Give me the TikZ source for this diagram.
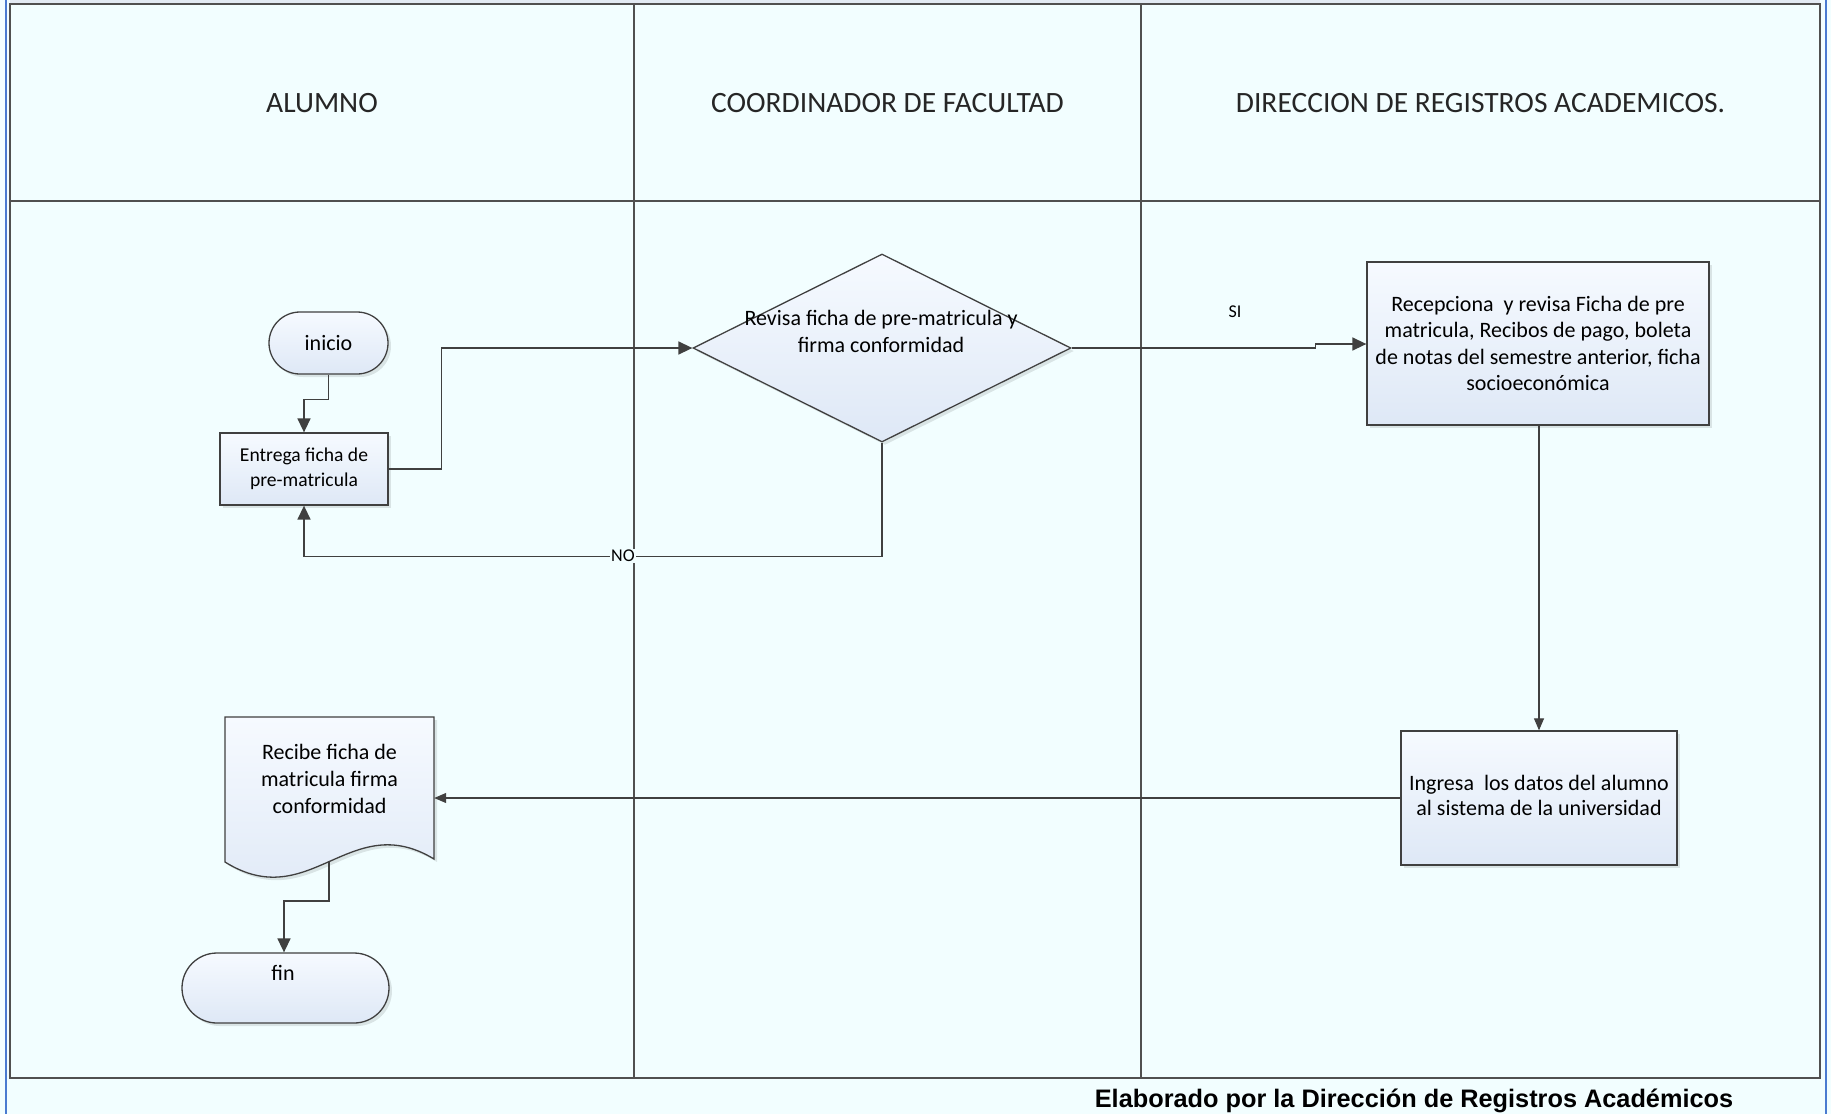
\documentclass[tikz,border=0pt]{standalone}
\usepackage{fontspec}
\setmainfont{Carlito}
\newfontfamily\footfont{Liberation Sans}
\usetikzlibrary{arrows.meta,shapes.geometric,shadows}
\definecolor{bg}{HTML}{F2FEFF}
\definecolor{ln}{HTML}{404040}
\definecolor{lane}{HTML}{505050}
\definecolor{frameblue}{HTML}{4A7BD0}
\definecolor{ftop}{HTML}{F6FAFF}
\definecolor{fbot}{HTML}{DEE8F6}
\definecolor{strip}{HTML}{E2EAF3}
\tikzset{
  shapefill/.style={draw=ln, line width=1.3pt, top color=ftop, bottom color=fbot,
    drop shadow={shadow xshift=3pt, shadow yshift=-3pt, fill=black, opacity=0.10}},
  procbox/.style={shapefill, rectangle, align=center, inner sep=0pt,
    font=\fontsize{22}{27}\selectfont},
  termbox/.style={procbox},
  decbox/.style={shapefill, diamond, inner sep=0pt},
  txt/.style={align=center, inner sep=0pt, font=\fontsize{22}{27}\selectfont},
  head/.style={inner sep=0pt, font=\fontsize{29.5}{34}\selectfont, text=black!85},
  lbl/.style={inner sep=1pt, font=\fontsize{18}{20}\selectfont, fill=bg},
  conn/.style={draw=ln, line width=1.5pt, -{Triangle[length=14pt,width=13pt]}},
  connthin/.style={draw=ln, line width=1.1pt, -{Triangle[length=12pt,width=10pt]}},
}
\begin{document}
\begin{tikzpicture}[x=1pt,y=-1pt]
% background and frame
\fill[bg] (0,0) rectangle (1831,1114);
\useasboundingbox (0,0) rectangle (1831,1114);
\fill[strip] (10,0) rectangle (1820,3);
\draw[frameblue, line width=2pt] (5.5,0) -- (5.5,1114);
\draw[frameblue, line width=2pt] (1826,0) -- (1826,1114);
\draw[lane, line width=2pt] (10,4) rectangle (1820,1078);
\draw[lane, line width=1.5pt] (10,201) -- (1820,201);
\draw[lane, line width=1.5pt] (634,4) -- (634,1078);
\draw[lane, line width=1.5pt] (1141,4) -- (1141,1078);

% lane headers
\node[head] (hA) at (322,103) {ALUMNO};
\node[head] (hB) at (887.5,103) {COORDINADOR DE FACULTAD};
\node[head] (hC) at (1480.5,103) {DIRECCION DE REGISTROS ACADEMICOS.};

% shapes
\node[termbox, rounded corners=31pt, minimum width=119pt, minimum height=62pt] (ini) at (328.5,343) {inicio};
\node[procbox, minimum width=168pt, minimum height=72pt, font=\fontsize{19.6}{25}\selectfont] (ent) at (304,469) {Entrega ficha de\\pre-matricula};
\node[decbox, minimum width=378pt, minimum height=188pt] (dec) at (882,348) {};
\node[txt] (dectxt) at (881,331.5) {Revisa ficha de pre-matricula y\\firma conformidad};
\node[procbox, minimum width=342pt, minimum height=163pt, font=\fontsize{22}{26.4}\selectfont] (rec) at (1538,343.5) {Recepciona\ \ y revisa Ficha de pre\\matricula, Recibos de pago, boleta\\de notas del semestre anterior, ficha\\socioeconómica};
\node[procbox, minimum width=276pt, minimum height=134pt, font=\fontsize{22}{25}\selectfont] (ing) at (1539,798) {};
\node[txt, font=\fontsize{22}{25}\selectfont] (ingtxt) at (1539,795.5) {Ingresa\ \ los datos del alumno\\al sistema de la universidad};

% document shape
\path[shapefill] (225,717) -- (434,717) -- (434,859) .. controls (350,808) and (310,915) .. (225,862) -- cycle;
\node[txt, minimum width=209pt, minimum height=127pt, font=\fontsize{22}{26.9}\selectfont] (doc) at (329.5,779) {Recibe ficha de\\matricula firma\\conformidad};
\coordinate (docb) at (329,861);

\node[termbox, rounded corners=35pt, minimum width=207pt, minimum height=70pt] (fin) at (285.5,988) {};
\node[txt] (fintxt) at (283,973) {fin};

% connectors
\draw[conn] (ini.south) -- ++(0,25) -| (ent.north);
\draw[conn] (ent.east) -- ++(53,0) |- (dec.west);
\draw[conn] (dec.south) -- ++(0,114) -| (ent.south);
\draw[conn] (dec.east) -- ++(244,0) -- ++(0,-4) -- (rec.west |- 0,344);
\draw[connthin] (rec.south -| ing.north) -- (ing.north);
\draw[connthin] (ing.west) -- (doc.east |- ing.west);
\draw[conn] (docb) -- ++(0,40) -| ([xshift=-1.5pt]fin.north);

% labels
\node[lbl] (no) at (623,556) {NO};
\node[inner sep=0pt, font=\fontsize{18}{20}\selectfont] (si) at (1235,312) {SI};

% footer
\node[inner sep=0pt, font=\footfont\bfseries\fontsize{25.3}{30}\selectfont] (foot) at (1414,1101) {Elaborado por la Dirección de Registros Académicos};
\end{tikzpicture}
\end{document}
